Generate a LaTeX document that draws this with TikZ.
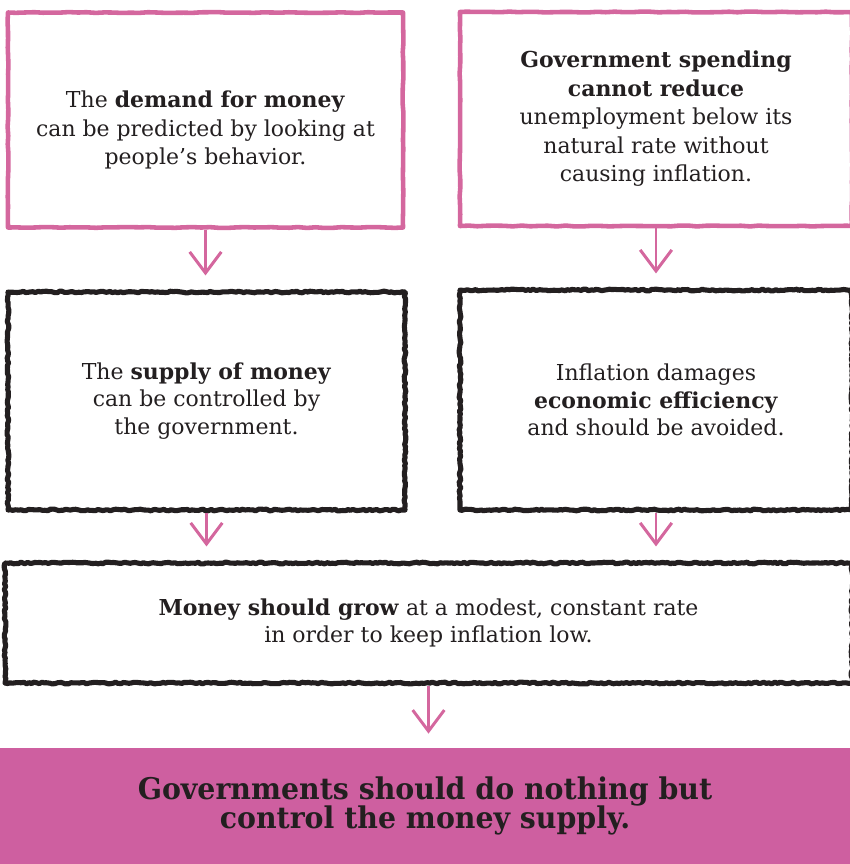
\documentclass[tikz,border=0pt]{standalone}
\usepackage{fontspec}
\setmainfont{DejaVu Serif}
\newfontfamily\headfont[FakeStretch=0.95]{DejaVu Serif}
\usetikzlibrary{arrows.meta,decorations.pathmorphing}
\definecolor{rosepink}{HTML}{D4679E}
\definecolor{magentafill}{HTML}{CE5FA0}
\definecolor{inkblack}{HTML}{231F20}
\tikzset{
  pinkbox/.style={draw=rosepink, line width=2.6pt, line join=round, align=center,
    minimum width=7.9cm, minimum height=4.3cm, text=inkblack,
    font=\fontsize{12.5}{16.2}\selectfont,
    decorate, decoration={random steps, segment length=5pt, amplitude=0.25pt}},
  inkbox/.style={pinkbox, draw=inkblack, line width=2.9pt,
    font=\fontsize{12.5}{15.8}\selectfont,
    decoration={random steps, segment length=1.5pt, amplitude=0.5pt}},
  flow/.style={draw=rosepink, line width=1.7pt, shorten >=0.28cm,
    -{Straight Barb[length=12pt, width=18pt]}}
}
\pgfmathsetseed{7}
\begin{document}
\begin{tikzpicture}
\useasboundingbox (0,0) rectangle (17,-17.28);
\node[pinkbox] (a) at (4.11,-2.4) {\rule{0pt}{21pt}The \textbf{demand for money}\\can be predicted by looking at\\people's behavior.};
\node[pinkbox, minimum width=7.84cm, minimum height=4.28cm] (b) at (13.12,-2.38) {\textbf{Government spending}\\\textbf{cannot reduce}\\unemployment below its\\natural rate without\\causing inflation.};
\node[inkbox, minimum width=7.94cm, minimum height=4.36cm] (c) at (4.13,-8.02) {The \textbf{supply of money}\\can be controlled by\\the government.};
\node[inkbox, minimum width=7.84cm, minimum height=4.4cm] (d) at (13.12,-8.0) {Inflation damages\\\textbf{economic efficiency}\\and should be avoided.};
\node[inkbox, minimum width=16.94cm, minimum height=2.4cm] (e) at (8.57,-12.46) {\textbf{Money should grow} at a modest, constant rate\\in order to keep inflation low.};
\node[fill=magentafill, inner sep=0pt, minimum width=17cm, minimum height=2.32cm, align=center, text=inkblack, font=\headfont\bfseries\fontsize{17}{17}\selectfont] (f) at (8.5,-16.12) {Governments should do nothing but\\control the money supply.};
\draw[flow] (a.south) -- (a.south |- c.north);
\draw[flow] (b.south) -- (b.south |- d.north);
\draw[flow] (c.south) -- (c.south |- e.north);
\draw[flow] (d.south) -- (d.south |- e.north);
\draw[flow] (e.south) -- (e.south |- f.north);
\end{tikzpicture}
\end{document}
